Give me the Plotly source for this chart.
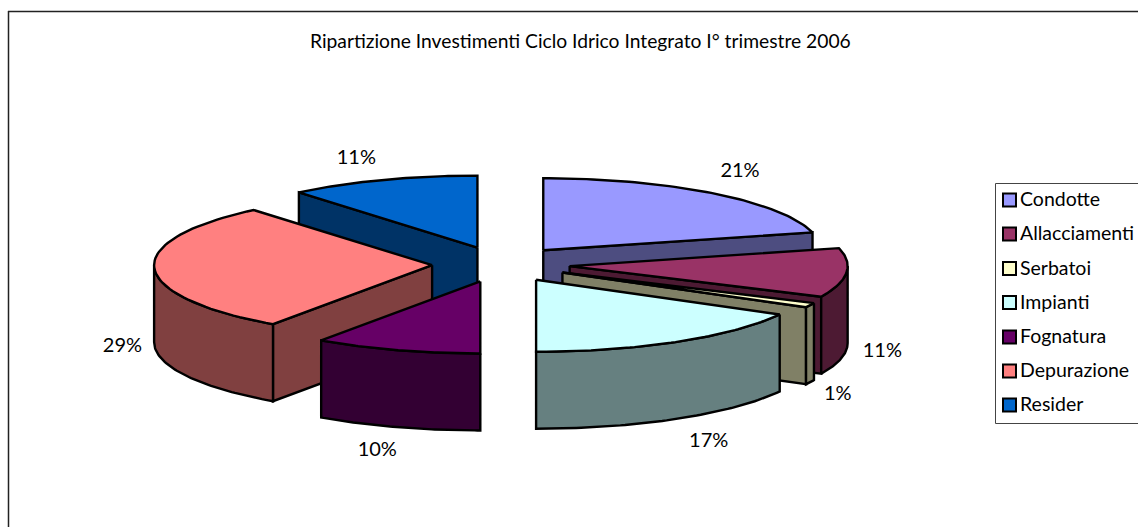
import numpy as np
import plotly.graph_objects as go

# ---- data ----
categories = ["Condotte", "Allacciamenti", "Serbatoi", "Impianti", "Fognatura", "Depurazione", "Resider"]
shares = [21.0, 11.0, 1.0, 17.0, 9.7, 29.2, 11.1]
top_colors = ["#9999FF", "#993366", "#FFFFCC", "#CCFFFF", "#660066", "#FF8080", "#0066CC"]
side_colors = ["#4D4D80", "#4D1A33", "#808066", "#668080", "#330033", "#804040", "#003366"]
title = "Ripartizione Investimenti Ciclo Idrico Integrato I° trimestre 2006"

# ---- layout of the projected pie (pixels of the page) ----
W, H = 1138, 527
CX, CY, RX = 501.0, 264.4, 278.0
TILT = 72.0 / RX
DEPTH = 77.0 / RX
EXPLODE = 0.248
FONT = "Lato"
LEGEND_LEFT, LEGEND_TOP, LEGEND_BOTTOM = 995.5, 183.5, 423.5
LEGEND_ROWS_Y = [201.5, 235.5, 270, 304, 338.5, 372.5, 406.5]
LABEL_NUDGE_X = [-1, 4, -3, 5, 4, 0, -2]
LABEL_NUDGE_Y = [1, 0, 2, 3, 2, 1, 5]


def px_x(x):
    return (x - CX) / RX


def px_y(y):
    return (CY - y) / RX


def rim(a, b, ax, ay, n=60):
    t = np.radians(np.linspace(a, b, n))
    return ax + np.sin(t), ay + TILT * np.cos(t)


fig = go.Figure()


def poly(xs, ys, color, width=2.4):
    fig.add_trace(go.Scatter(
        x=list(xs) + [xs[0]], y=list(ys) + [ys[0]], mode="lines", fill="toself",
        fillcolor=color, line=dict(color="black", width=width), hoverinfo="skip", showlegend=False))


total = sum(shares)
edges = np.cumsum([0] + shares) / total * 360
slices = []
for i in range(len(categories)):
    a, b = edges[i], edges[i + 1]
    m = np.radians((a + b) / 2)
    slices.append(dict(i=i, a=a, b=b, m=m, ax=EXPLODE * np.sin(m), ay=EXPLODE * TILT * np.cos(m)))

for s in sorted(slices, key=lambda s: -np.cos(s["m"])):
    a, b, ax, ay, i = s["a"], s["b"], s["ax"], s["ay"], s["i"]
    # radial walls that face the viewer
    for ang, normal in ((a, a - 90), (b, b + 90)):
        if np.cos(np.radians(normal)) < -1e-6:
            r = np.radians(ang)
            ex, ey = ax + np.sin(r), ay + TILT * np.cos(r)
            poly([ax, ex, ex, ax], [ay, ey, ey - DEPTH, ay - DEPTH], side_colors[i])
    # outer wall
    lo, hi = max(a, 90), min(b, 270)
    if hi > lo:
        rx, ry = rim(lo, hi, ax, ay)
        poly(list(rx) + list(rx[::-1]), list(ry) + list(ry[::-1] - DEPTH), side_colors[i])
    # top face
    rx, ry = rim(a, b, ax, ay)
    poly([ax] + list(rx), [ay] + list(ry), top_colors[i])

# percentage labels, placed from each slice's mid angle
lab_x, lab_y, lab_t = [], [], []
for s in slices:
    sn, cs = np.sin(s["m"]), np.cos(s["m"])
    ox = s["ax"] + sn + (20 * np.sign(sn) + 12 * sn + LABEL_NUDGE_X[s["i"]]) / RX
    oy = s["ay"] + TILT * cs
    oy -= (77 - 23 * cs) / RX if cs < 0 else -28 * cs / RX
    oy -= LABEL_NUDGE_Y[s["i"]] / RX
    lab_x.append(ox)
    lab_y.append(oy)
    lab_t.append(f"{round(shares[s['i']])}%")
fig.add_trace(go.Scatter(x=lab_x, y=lab_y, mode="text", text=lab_t, textposition="middle center",
                         textfont=dict(family=FONT, size=20, color="black"),
                         hoverinfo="skip", showlegend=False))

# legend swatches and names
swatch_rows = [v - 1.5 for v in LEGEND_ROWS_Y]
fig.add_trace(go.Scatter(
    x=[px_x(1009.5)] * len(categories), y=[px_y(v) for v in swatch_rows], mode="markers",
    marker=dict(symbol="square", size=13, color=top_colors, line=dict(color="black", width=2)),
    hoverinfo="skip", showlegend=False))
fig.add_trace(go.Scatter(
    x=[px_x(1020)] * len(categories), y=[px_y(v) for v in LEGEND_ROWS_Y], mode="text", text=categories,
    textposition="middle right", textfont=dict(family=FONT, size=19.5, color="black"),
    hoverinfo="skip", showlegend=False))

shapes = [
    dict(type="line", xref="paper", yref="paper", x0=8.5 / W, x1=8.5 / W, y0=0, y1=1 - 11 / H,
         line=dict(color="#222222", width=1.5)),
    dict(type="line", xref="paper", yref="paper", x0=8 / W, x1=1, y0=1 - 11.5 / H, y1=1 - 11.5 / H,
         line=dict(color="#222222", width=1.5)),
    dict(type="path", xref="paper", yref="paper",
         path=f"M {LEGEND_LEFT / W} {1 - LEGEND_TOP / H} L 1.01 {1 - LEGEND_TOP / H} "
              f"L 1.01 {1 - LEGEND_BOTTOM / H} L {LEGEND_LEFT / W} {1 - LEGEND_BOTTOM / H} Z",
         line=dict(color="#444444", width=1)),
]

fig.update_layout(
    width=W, height=H, margin=dict(l=0, r=0, t=0, b=0), paper_bgcolor="white", plot_bgcolor="white",
    showlegend=False, shapes=shapes,
    xaxis=dict(range=[px_x(0), px_x(W)], visible=False, fixedrange=True),
    yaxis=dict(range=[px_y(H), px_y(0)], visible=False, fixedrange=True),
    annotations=[dict(text=title, xref="paper", yref="paper", x=580.5 / W, y=1 - 41 / H, showarrow=False,
                      xanchor="center", yanchor="middle", font=dict(family=FONT, size=19.25, color="black"))],
)
fig.write_html("out.html", config=dict(displayModeBar=False),
               post_script="document.body.style.margin='0';document.body.style.overflow='hidden';")
